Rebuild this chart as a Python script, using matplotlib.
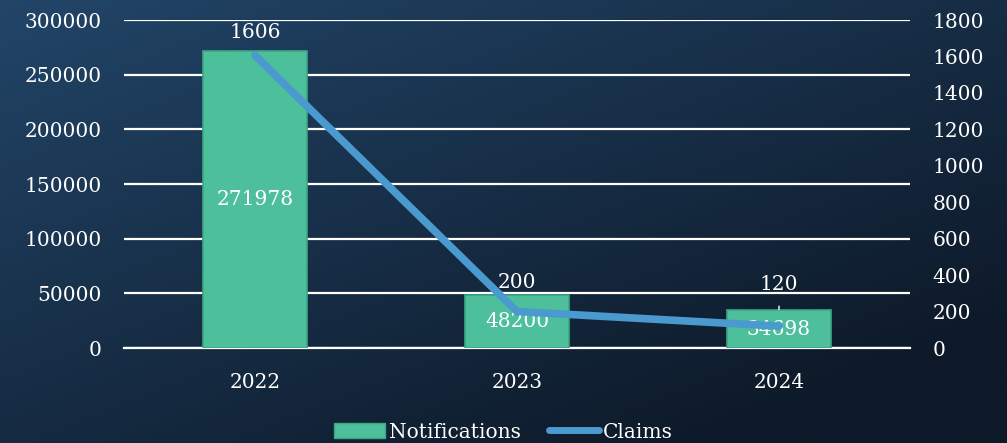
import numpy as np
import matplotlib.pyplot as plt
from matplotlib.patches import Patch
from matplotlib.lines import Line2D

years = ['2022', '2023', '2024']
notifications = [271978, 48200, 34698]
claims = [1606, 200, 120]
left_ticks = [0, 50000, 100000, 150000, 200000, 250000, 300000]
right_ticks = [0, 200, 400, 600, 800, 1000, 1200, 1400, 1600, 1800]

bar_color = '#4dbf9b'
line_color = '#4a9ad0'
font = 'DejaVu Serif'
plt.rcParams['font.family'] = font
fs = 14.5

W, H = 1007, 443
fig = plt.figure(figsize=(W / 100, H / 100), dpi=100)

# background gradient
bg = fig.add_axes([0, 0, 1, 1], zorder=-10)
yy, xx = np.mgrid[0:1:200j, 0:1:400j]
t = np.clip(0.55 * xx + 0.6 * yy, 0, 1)
c0 = np.array([0x22, 0x45, 0x68]) / 255
c1 = np.array([0x0d, 0x19, 0x28]) / 255
img = c0[None, None, :] * (1 - t[..., None]) + c1[None, None, :] * t[..., None]
bg.imshow(img, aspect='auto', extent=[0, 1, 0, 1])
bg.axis('off')

ax = fig.add_axes([124 / W, (H - 348) / H, 786 / W, 328 / H])
ax.patch.set_alpha(0)
x = np.arange(len(years))
bars = ax.bar(x, notifications, width=0.4, color=bar_color, edgecolor='#3aa784',
              linewidth=1.2, zorder=3)
ax.set_xlim(-0.5, 2.5)
ax.set_ylim(0, 300000)
ax.set_yticks(left_ticks)
ax.set_yticklabels([str(v) for v in left_ticks])
ax.set_xticks(x)
ax.set_xticklabels(years)
ax.grid(axis='y', color='white', linewidth=1.6, zorder=0)
ax.set_axisbelow(True)
for s in ['top', 'left', 'right']:
    ax.spines[s].set_visible(False)
ax.spines['bottom'].set_color('white')
ax.spines['bottom'].set_linewidth(1.6)
ax.tick_params(colors='white', labelsize=fs, length=0, pad=16)
ax.tick_params(axis='x', pad=18)

for xi, v in zip(x, notifications):
    ax.text(xi, v / 2, str(v), ha='center', va='center', color='white',
            fontsize=fs, zorder=6)

ax2 = ax.twinx()
ax2.set_ylim(0, 1800)
ax2.set_yticks(right_ticks)
ax2.set_yticklabels([str(v) for v in right_ticks])
for s in ax2.spines.values():
    s.set_visible(False)
ax2.tick_params(colors='white', labelsize=fs, length=0, pad=16)
ax2.plot(x, claims, color=line_color, linewidth=5.5, solid_capstyle='round', zorder=5)

offsets = [23, 29, 42]
for xi, v, off in zip(x, claims, offsets):
    if off > 35:
        ax2.annotate(str(v), xy=(xi, v), xytext=(0, off), textcoords='offset pixels',
                     ha='center', va='center', color='white', fontsize=fs,
                     arrowprops=dict(arrowstyle='-', color='white', lw=1,
                                     shrinkA=7, shrinkB=12))
    else:
        ax2.annotate(str(v), xy=(xi, v), xytext=(0, off), textcoords='offset pixels',
                     ha='center', va='center', color='white', fontsize=fs)

handles = [Patch(facecolor=bar_color, edgecolor='#3aa784'),
           Line2D([0], [0], color=line_color, linewidth=5, solid_capstyle='round')]
leg = fig.legend(handles, ['Notifications', 'Claims'], loc='center',
                 bbox_to_anchor=(0.5, 11 / H), ncol=2, frameon=False, fontsize=fs,
                 handlelength=2.5, handletextpad=0.2, columnspacing=1.4)
for txt in leg.get_texts():
    txt.set_color('white')

fig.savefig('out.png', dpi=100)
